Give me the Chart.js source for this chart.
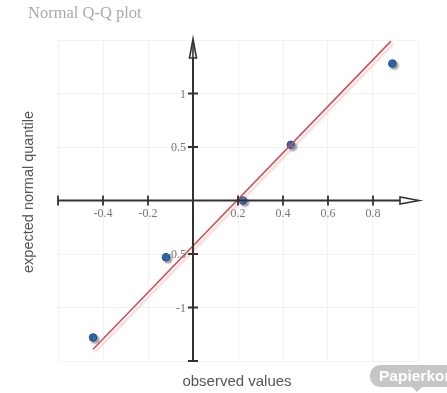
<!DOCTYPE html>
<html>
<head>
<meta charset="utf-8">
<script src="https://cdn.jsdelivr.net/npm/chart.js@4/dist/chart.umd.min.js"></script>
<style>
  html, body { margin: 0; padding: 0; background: #fff; overflow: hidden; }
  #wrap { position: relative; width: 447px; height: 393px; overflow: hidden; }
  #title { position: absolute; left: 28px; top: 3px; font: 16.5px "Liberation Serif", serif; color: #aaa; }
  #ylab { position: absolute; left: 28px; top: 184px; transform: translate(-50%, 0) rotate(-90deg); white-space: nowrap;
          font: 14.5px "Liberation Sans", Arial, sans-serif; color: #555; }
  #xlab { position: absolute; left: 237px; top: 372px; transform: translateX(-50%); white-space: nowrap;
          font: 15px "Liberation Sans", Arial, sans-serif; color: #555; }
  #bin { position: absolute; left: 370px; top: 365px; width: 90px; height: 22px; border-radius: 10px; background: #c6c6c6;
         color: #fff; font: bold 15.5px "Liberation Sans", Arial, sans-serif; line-height: 22px; padding-left: 9px; white-space: nowrap; }
  #bin:after { content: ""; position: absolute; left: 42px; top: 22px; border: 5px solid transparent; border-top-color: #c6c6c6; }
</style>
</head>
<body>
<div id="wrap">
  <canvas id="qq" width="447" height="393"></canvas>
  <div id="title">Normal Q-Q plot</div>
  <div id="ylab">expected normal quantile</div>
  <div id="xlab">observed values</div>
  <div id="bin">Papierkorb</div>
</div>
<script>
// 观测值与理论分位数
const observed = [-0.444, -0.12, 0.222, 0.435, 0.886];
const expected = [-1.28, -0.53, 0, 0.52, 1.28];
// 参考线端点
const lineX = [-0.444, 0.88];
const lineY = [-1.39, 1.49];
// 刻度
const xTicks = [-0.6, -0.4, -0.2, 0, 0.2, 0.4, 0.6, 0.8, 1.0];
const yTicks = [-1.5, -1, -0.5, 0, 0.5, 1, 1.5];
const xLabels = ['', '-0.4', '-0.2', '', '0.2', '0.4', '0.6', '0.8', ''];
const yLabels = ['', '-1', '-0.5', '', '0.5', '1', ''];

const AXIS = '#333';
const TICK_FONT = '12px "Liberation Serif", serif';

// 坐标轴、刻度线、y 轴标签和箭头
const axisPlugin = {
    id: 'axisPlugin',
    afterDatasetsDraw(chart) {
        const ctx = chart.ctx;
        const xs = chart.scales.x, ys = chart.scales.y;
        const x0 = xs.getPixelForValue(0), y0 = ys.getPixelForValue(0);
        const xl = xs.getPixelForValue(-0.6), xr = xs.getPixelForValue(1.0);
        const yt = ys.getPixelForValue(1.5), yb = ys.getPixelForValue(-1.5);
        ctx.save();
        ctx.strokeStyle = AXIS;
        ctx.lineWidth = 2;
        ctx.beginPath();
        ctx.moveTo(xl, y0); ctx.lineTo(xr - 4, y0);
        ctx.moveTo(x0, yb); ctx.lineTo(x0, yt + 4);
        ctx.stroke();
        // 刻度线
        ctx.lineWidth = 1.8;
        ctx.beginPath();
        xTicks.forEach(v => {
            if (v === 0 || v === 1.0) return;
            const px = xs.getPixelForValue(v);
            ctx.moveTo(px, y0 - 5); ctx.lineTo(px, y0 + 5);
        });
        yTicks.forEach(v => {
            if (v === 0 || v === 1.5) return;
            const py = ys.getPixelForValue(v);
            ctx.moveTo(x0 - 5, py); ctx.lineTo(x0 + 5, py);
        });
        ctx.stroke();
        // y 轴刻度标签
        ctx.font = TICK_FONT;
        ctx.fillStyle = '#777';
        ctx.textAlign = 'right';
        ctx.textBaseline = 'middle';
        yTicks.forEach((v, i) => {
            if (!yLabels[i]) return;
            ctx.fillText(yLabels[i], x0 - 7, ys.getPixelForValue(v) + 1);
        });
        // 箭头
        ctx.lineWidth = 1.6;
        ctx.fillStyle = '#fff';
        ctx.beginPath();
        ctx.moveTo(x0, yt - 1); ctx.lineTo(x0 - 3.5, yt + 18); ctx.lineTo(x0 + 3.5, yt + 18); ctx.closePath();
        ctx.fill(); ctx.stroke();
        ctx.beginPath();
        ctx.moveTo(x0, yt + 2); ctx.lineTo(x0, yt + 18);
        ctx.stroke();
        ctx.beginPath();
        ctx.moveTo(xr + 1, y0); ctx.lineTo(xr - 18, y0 - 3.5); ctx.lineTo(xr - 18, y0 + 3.5); ctx.closePath();
        ctx.fill(); ctx.stroke();
        ctx.restore();
    },
    beforeDatasetDraw(chart, args) {
        const ctx = chart.ctx;
        ctx.save();
        if (args.index === 0) {
            ctx.shadowColor = 'rgba(230,150,150,0.55)';
            ctx.shadowOffsetX = 2;
            ctx.shadowOffsetY = 3;
            ctx.shadowBlur = 2;
        } else {
            ctx.shadowColor = 'rgba(0,0,0,0.35)';
            ctx.shadowOffsetX = 2;
            ctx.shadowOffsetY = 2;
            ctx.shadowBlur = 2;
        }
    },
    afterDatasetDraw(chart) {
        chart.ctx.restore();
    }
};

new Chart(document.getElementById('qq').getContext('2d'), {
    type: 'scatter',
    data: {
        datasets: [{
            type: 'line',
            data: lineX.map((x, i) => ({ x: x, y: lineY[i] })),
            borderColor: '#c8525a',
            borderWidth: 1.6,
            pointRadius: 0,
            fill: false
        }, {
            data: observed.map((x, i) => ({ x: x, y: expected[i] })),
            backgroundColor: '#2f6fb8',
            borderColor: '#1d4a80',
            borderWidth: 1,
            pointRadius: 3.8
        }]
    },
    options: {
        responsive: false,
        animation: false,
        devicePixelRatio: 1,
        layout: { padding: { left: 58, right: 29, top: 40, bottom: 32 } },
        plugins: { legend: { display: false }, tooltip: { enabled: false } },
        scales: {
            x: {
                type: 'linear',
                position: { y: 0 },
                min: -0.6, max: 1.0,
                afterBuildTicks: s => { s.ticks = xTicks.map(v => ({ value: v })); },
                grid: { color: 'rgba(0,0,0,0.05)', drawTicks: true, tickLength: 5, tickColor: 'rgba(0,0,0,0)' },
                border: { display: false },
                ticks: {
                    padding: 1,
                    maxRotation: 0,
                    font: { family: '"Liberation Serif", serif', size: 12 },
                    color: '#777',
                    callback: (v, i) => xLabels[i]
                }
            },
            y: {
                type: 'linear',
                position: { x: 0 },
                min: -1.5, max: 1.5,
                afterBuildTicks: s => { s.ticks = yTicks.map(v => ({ value: v })); },
                grid: { color: 'rgba(0,0,0,0.05)', drawTicks: false },
                border: { display: false },
                ticks: { callback: () => '' }
            }
        }
    },
    plugins: [axisPlugin]
});
</script>
</body>
</html>
